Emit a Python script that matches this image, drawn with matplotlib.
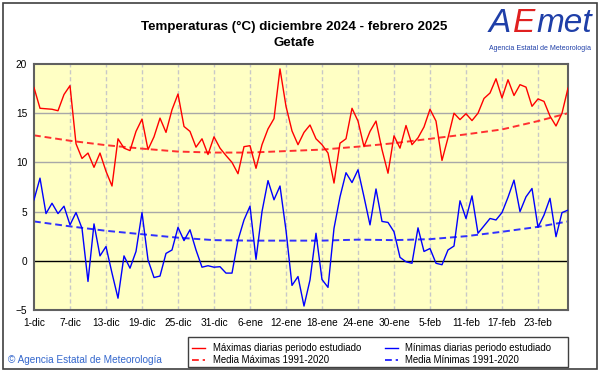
import numpy as np
import matplotlib
matplotlib.use("Agg")
import matplotlib.pyplot as plt
from matplotlib.patches import Rectangle

plt.rcParams['font.family'] = ['Liberation Sans', 'DejaVu Sans']

# daily max / min temperatures, 1-dic-2024 .. 28-feb-2025
tmax = [17.6, 15.5, 15.45, 15.4, 15.25, 16.9, 17.8, 11.9, 10.4, 10.95,
        9.5, 10.95, 9.1, 7.6, 12.4, 11.45, 11.2, 13.15, 14.4, 11.3,
        12.6, 14.5, 13.05, 15.35, 16.95, 13.65, 13.15, 11.55, 12.4, 10.8,
        12.6, 11.45, 10.7, 10.0, 8.85, 11.6, 11.7, 9.4, 11.8, 13.4,
        14.45, 19.5, 15.7, 13.2, 11.8, 13.05, 13.8, 12.4, 11.8, 10.95,
        7.9, 11.95, 12.4, 15.5, 14.2, 11.6, 13.15, 14.2, 11.3, 8.9,
        12.7, 11.45, 13.75, 11.8, 12.5, 13.6, 15.4, 14.2, 10.2, 12.5,
        15.0, 14.35, 14.95, 14.25, 15.0, 16.5, 17.05, 18.5, 16.55, 18.4,
        16.8, 17.9, 17.65, 15.7, 16.45, 16.2, 14.7, 13.7, 15.0, 17.55]
tmin = [6.2, 8.4, 4.8, 5.85, 4.8, 5.55, 3.65, 4.9, 3.3, -2.1,
        3.75, 0.5, 1.45, -1.25, -3.8, 0.5, -0.75, 0.95, 4.9, 0.1,
        -1.7, -1.55, 0.75, 1.1, 3.4, 2.05, 3.15, 1.1, -0.65, -0.5,
        -0.65, -0.6, -1.25, -1.25, 2.1, 4.15, 5.55, 0.15, 5.0, 8.15,
        6.2, 7.6, 3.1, -2.5, -1.6, -4.6, -1.95, 2.8, -1.9, -2.7,
        3.3, 6.5, 8.95, 7.95, 9.25, 6.5, 3.65, 7.3, 4.0, 3.9,
        2.95, 0.35, -0.1, -0.25, 3.35, 0.95, 1.25, -0.25, -0.4, 1.1,
        1.5, 6.1, 4.3, 6.6, 2.8, 3.55, 4.3, 4.15, 4.9, 6.45,
        8.2, 5.0, 6.5, 7.35, 3.4, 4.65, 6.35, 2.45, 4.9, 5.15]

# 1991-2020 normals, sampled every 6 days (+ last day)
norm_days = [0, 6, 12, 18, 24, 30, 36, 42, 48, 54, 60, 66, 72, 78, 84, 89]
norm_max = [12.75, 12.2, 11.75, 11.4, 11.1, 11.0, 11.0, 11.15, 11.3, 11.6,
            11.95, 12.4, 12.85, 13.35, 14.2, 15.0]
norm_min = [4.0, 3.5, 3.05, 2.7, 2.35, 2.1, 2.05, 2.05, 2.05, 2.15,
            2.1, 2.2, 2.5, 2.95, 3.45, 4.0]

tick_labels = ['1-dic', '7-dic', '13-dic', '19-dic', '25-dic', '31-dic', '6-ene',
               '12-ene', '18-ene', '24-ene', '30-ene', '5-feb', '11-feb',
               '17-feb', '23-feb']

days = np.arange(len(tmax))

W, H = 601, 374
fig = plt.figure(figsize=(W / 100, H / 100), dpi=100)
ax = fig.add_axes([34 / W, 1 - 310 / H, 534 / W, 246 / H])
ax.set_facecolor('#FFFFC4')

ax.set_xlim(0, 89)
ax.set_ylim(-5, 20)
ax.set_xticks(np.arange(0, 90, 6))
ax.set_xticklabels(tick_labels)
ax.set_yticks([-5, 0, 5, 10, 15, 20])
ax.tick_params(length=0, labelsize=7.3, pad=6)
ax.tick_params(axis='y', pad=5)

for x in np.arange(6, 89, 6):
    ax.axvline(x, color='#C8C8C8', lw=1, ls=(0, (3, 2)), zorder=1)
for y in [5, 10, 15]:
    ax.axhline(y, color='#A8A8A8', lw=1, zorder=1)
ax.axhline(0, color='black', lw=1, zorder=1)

ax.plot(days, tmax, color='#FF0000', lw=1, zorder=3,
        label='Máximas diarias periodo estudiado')
ax.plot(norm_days, norm_max, color='#FF3030', lw=1.4, ls=(0, (3.5, 2)), zorder=2,
        label='Media Máximas 1991-2020')
ax.plot(days, tmin, color='#0000FF', lw=1, zorder=3,
        label='Mínimas diarias periodo estudiado')
ax.plot(norm_days, norm_min, color='#3030FF', lw=1.4, ls=(0, (3.5, 2)), zorder=2,
        label='Media Mínimas 1991-2020')

for s in ax.spines.values():
    s.set_color('#606060')
    s.set_linewidth(1.5)

fig.legend(loc='upper left', bbox_to_anchor=(192 / W, 1 - 343 / H), ncol=2,
           fontsize=6.9, frameon=False, handlelength=1.4, handletextpad=0.75,
           columnspacing=2.5, labelspacing=0.25, borderpad=0, borderaxespad=0)
fig.patches.append(Rectangle((188 / W, 1 - 367 / H), 380 / W, 30 / H,
                             transform=fig.transFigure, fill=False,
                             edgecolor='#404040', lw=1))

fig.text(294 / W, 1 - 27 / H, 'Temperaturas (°C) diciembre 2024 - febrero 2025',
         ha='center', va='center', fontsize=9.6, fontweight='bold',
         family=['Liberation Sans Narrow', 'Liberation Sans'])
fig.text(294 / W, 1 - 43 / H, 'Getafe', ha='center', va='center', fontsize=9.6,
         fontweight='bold', family=['Liberation Sans Narrow', 'Liberation Sans'])

fig.text(8 / W, 1 - 360 / H, '© Agencia Estatal de Meteorología', ha='left',
         va='center', fontsize=7.2, color='#3366CC')

# logo
fig.text(489 / W, 1 - 23 / H, 'A', ha='left', va='center', fontsize=24,
         color='#1F3FA8', style='italic')
fig.text(513 / W, 1 - 23 / H, 'E', ha='left', va='center', fontsize=24,
         color='#E02020', style='italic')
fig.text(536 / W, 1 - 23 / H, 'met', ha='left', va='center', fontsize=24,
         color='#1F3FA8', style='italic')
fig.text(540 / W, 1 - 48 / H, 'Agencia Estatal de Meteorología', ha='center',
         va='center', fontsize=5, color='#1F3FA8')

fig.patches.append(Rectangle((3 / W, 1 - 369 / H), 594 / W, 366 / H,
                             transform=fig.transFigure, fill=False,
                             edgecolor='#404040', lw=1.2))

fig.savefig('out.png', dpi=100)
